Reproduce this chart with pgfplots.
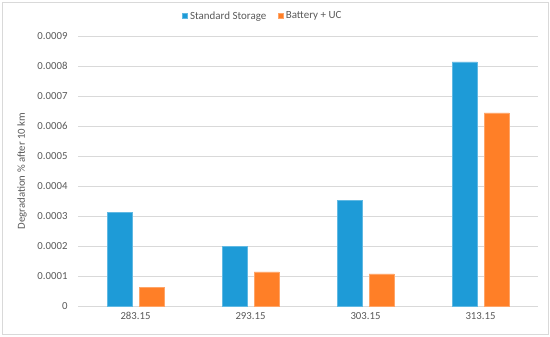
\documentclass[border=0pt]{standalone}
\usepackage{pgfplots}
\pgfplotsset{compat=1.18}
\usepackage{fontspec}
\setmainfont{Carlito}
\definecolor{sblue}{RGB}{30,155,215}
\definecolor{sorange}{RGB}{255,127,39}
\definecolor{txt}{RGB}{89,89,89}
\definecolor{gridc}{RGB}{217,217,217}
\begin{document}
\begin{tikzpicture}[x=1bp,y=1bp]
\path[use as bounding box] (0,0) rectangle (550,336);
\draw[gridc, line width=0.8bp] (2,2) rectangle (548,334);
\begin{axis}[
  at={(78bp,30bp)}, anchor=south west,
  scale only axis, width=460bp, height=270bp,
  ybar=7bp, bar width=25bp,
  xmin=-0.5, xmax=3.5, ymin=0, ymax=0.0009,
  xtick={0,1,2,3}, xticklabels={283.15,293.15,303.15,313.15},
  ytick={0,0.0001,0.0002,0.0003,0.0004,0.0005,0.0006,0.0007,0.0008,0.0009},
  yticklabels={0,0.0001,0.0002,0.0003,0.0004,0.0005,0.0006,0.0007,0.0008,0.0009},
  scaled y ticks=false,
  /pgf/number format/assume math mode=true,
  xmajorgrids=false, ymajorgrids=true,
  grid style={draw=gridc, line width=0.8bp},
  axis line style={draw=none},
  major tick length=0,
  tick label style={font=\fontsize{10.8}{12}\selectfont, text=txt},
  yticklabel style={xshift=-7bp},
  xticklabel style={yshift=-3bp},
  ylabel={Degradation \% after 10 km},
  ylabel style={font=\fontsize{10.8}{12}\selectfont, text=txt, at={(rel axis cs:0,0.5)}, anchor=center, yshift=56bp},
  legend style={draw=none, fill=none, at={(0.402,1.074)}, anchor=center,
    legend columns=2, font=\fontsize{11}{12}\selectfont, text=txt,
    /tikz/every even column/.append style={column sep=10bp}},
  legend image code/.code={\fill[#1] (0bp,-2.5bp) rectangle (5bp,2.5bp);},
]
\addplot[fill=sblue, draw=sblue!70!white, line width=0.6bp] coordinates {(0,0.000312) (1,0.000200) (2,0.000351) (3,0.000814)};
\addplot[fill=sorange, draw=sorange!70!white, line width=0.6bp] coordinates {(0,0.0000615) (1,0.000114) (2,0.000107) (3,0.000644)};
\legend{Standard Storage, Battery + UC}
\end{axis}
\end{tikzpicture}
\end{document}
